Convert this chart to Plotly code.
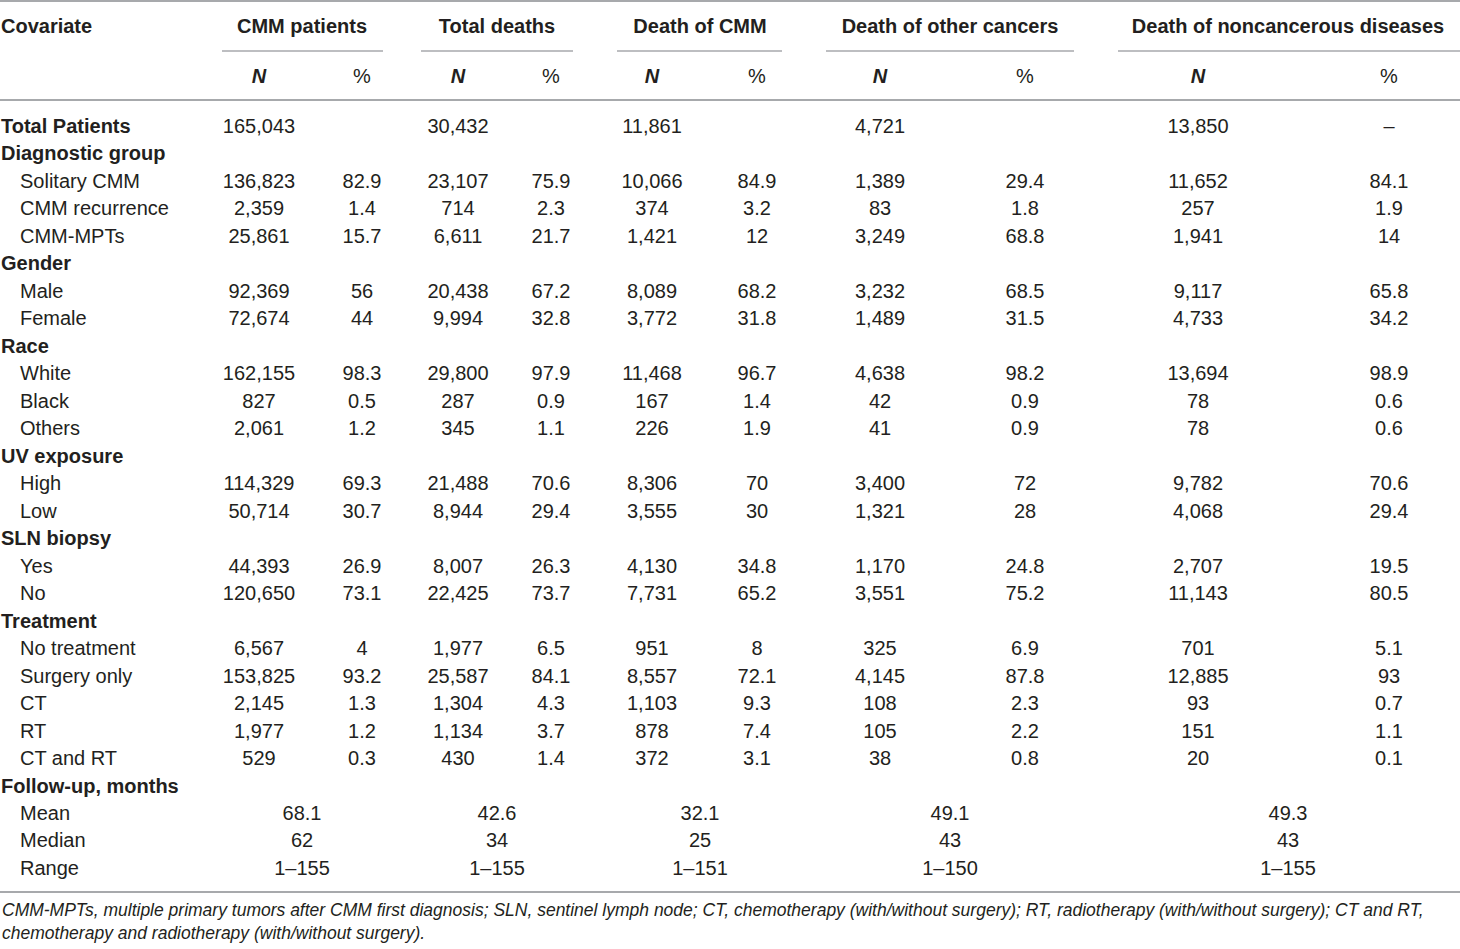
import plotly.graph_objects as go

# table content
row_labels = ["Total Patients", "Diagnostic group", "Solitary CMM", "CMM recurrence", "CMM-MPTs",
              "Gender", "Male", "Female", "Race", "White", "Black", "Others",
              "UV exposure", "High", "Low", "SLN biopsy", "Yes", "No",
              "Treatment", "No treatment", "Surgery only", "CT", "RT", "CT and RT",
              "Follow-up, months", "Mean", "Median", "Range"]
group_rows = ["Total Patients", "Diagnostic group", "Gender", "Race", "UV exposure",
              "SLN biopsy", "Treatment", "Follow-up, months"]

groups = ["CMM patients", "Total deaths", "Death of CMM", "Death of other cancers",
          "Death of noncancerous diseases"]

_ = None
cmm_n = [165043, _, 136823, 2359, 25861, _, 92369, 72674, _, 162155, 827, 2061, _,
         114329, 50714, _, 44393, 120650, _, 6567, 153825, 2145, 1977, 529]
cmm_pct = [_, _, 82.9, 1.4, 15.7, _, 56, 44, _, 98.3, 0.5, 1.2, _,
           69.3, 30.7, _, 26.9, 73.1, _, 4, 93.2, 1.3, 1.2, 0.3]
tot_n = [30432, _, 23107, 714, 6611, _, 20438, 9994, _, 29800, 287, 345, _,
         21488, 8944, _, 8007, 22425, _, 1977, 25587, 1304, 1134, 430]
tot_pct = [_, _, 75.9, 2.3, 21.7, _, 67.2, 32.8, _, 97.9, 0.9, 1.1, _,
           70.6, 29.4, _, 26.3, 73.7, _, 6.5, 84.1, 4.3, 3.7, 1.4]
dcmm_n = [11861, _, 10066, 374, 1421, _, 8089, 3772, _, 11468, 167, 226, _,
          8306, 3555, _, 4130, 7731, _, 951, 8557, 1103, 878, 372]
dcmm_pct = [_, _, 84.9, 3.2, 12, _, 68.2, 31.8, _, 96.7, 1.4, 1.9, _,
            70, 30, _, 34.8, 65.2, _, 8, 72.1, 9.3, 7.4, 3.1]
other_n = [4721, _, 1389, 83, 3249, _, 3232, 1489, _, 4638, 42, 41, _,
           3400, 1321, _, 1170, 3551, _, 325, 4145, 108, 105, 38]
other_pct = [_, _, 29.4, 1.8, 68.8, _, 68.5, 31.5, _, 98.2, 0.9, 0.9, _,
             72, 28, _, 24.8, 75.2, _, 6.9, 87.8, 2.3, 2.2, 0.8]
nonc_n = [13850, _, 11652, 257, 1941, _, 9117, 4733, _, 13694, 78, 78, _,
          9782, 4068, _, 2707, 11143, _, 701, 12885, 93, 151, 20]
nonc_pct = ["–", _, 84.1, 1.9, 14, _, 65.8, 34.2, _, 98.9, 0.6, 0.6, _,
            70.6, 29.4, _, 19.5, 80.5, _, 5.1, 93, 0.7, 1.1, 0.1]

fu_mean = [68.1, 42.6, 32.1, 49.1, 49.3]
fu_median = [62, 34, 25, 43, 43]
fu_range = ["1–155", "1–155", "1–151", "1–150", "1–155"]

footnote = ("CMM-MPTs, multiple primary tumors after CMM first diagnosis; SLN, sentinel lymph node; "
            "CT, chemotherapy (with/without surgery); RT, radiotherapy (with/without surgery); CT and RT,"
            "<br>chemotherapy and radiotherapy (with/without surgery).")

# layout constants (pixels)
W, H = 1460, 949
ROW0, ROW_H = 128, 27.48
HEAD_Y, SUB_Y = 28, 78
N_X = [259, 458, 652, 880, 1198]
P_X = [362, 551, 757, 1025, 1389]
G_X = [302, 497, 700, 950, 1288]
LINE_SPANS = [(222, 383), (421, 573), (617, 782), (826, 1074), (1118, 1460)]
FONT = "Liberation Sans, Arial, Helvetica, sans-serif"
INK = "#231f20"
RULE = "#a7a9ac"
SIZE = 20


def fmt(v):
    if v is None:
        return ""
    if isinstance(v, str):
        return v
    if isinstance(v, int):
        return f"{v:,}"
    return f"{v:g}"


def row_y(i):
    return ROW0 + i * ROW_H


def text_trace(x, y, text, pos="middle center", **font):
    return go.Scatter(x=x, y=y, text=text, mode="text", textposition=pos,
                      textfont=dict(family=FONT, size=SIZE, color=INK, **font),
                      hoverinfo="skip", cliponaxis=False)


fig = go.Figure()

# row labels
bold_idx = [i for i, r in enumerate(row_labels) if r in group_rows]
sub_idx = [i for i, r in enumerate(row_labels) if r not in group_rows]
fig.add_trace(text_trace([1] * len(bold_idx), [row_y(i) for i in bold_idx],
                         [row_labels[i] for i in bold_idx], "middle right", weight="bold"))
fig.add_trace(text_trace([20] * len(sub_idx), [row_y(i) for i in sub_idx],
                         [row_labels[i] for i in sub_idx], "middle right"))

# value columns
cols = [(cmm_n, cmm_pct), (tot_n, tot_pct), (dcmm_n, dcmm_pct),
        (other_n, other_pct), (nonc_n, nonc_pct)]
for g, (ns, ps) in enumerate(cols):
    for xs, vals in ((N_X[g], ns), (P_X[g], ps)):
        fig.add_trace(text_trace([xs] * len(vals), [row_y(i) for i in range(len(vals))],
                                 [fmt(v) for v in vals]))

# follow-up rows, centred under each group
fu_start = row_labels.index("Mean")
for k, vals in enumerate((fu_mean, fu_median, fu_range)):
    fig.add_trace(text_trace(G_X, [row_y(fu_start + k)] * len(G_X), [fmt(v) for v in vals]))

# header
fig.add_trace(text_trace([1], [HEAD_Y], ["Covariate"], "middle right", weight="bold"))
fig.add_trace(text_trace(G_X, [HEAD_Y] * len(G_X), groups, weight="bold"))
fig.add_trace(text_trace(N_X, [SUB_Y] * len(N_X), ["N"] * len(N_X), weight="bold", style="italic"))
fig.add_trace(text_trace(P_X, [SUB_Y] * len(P_X), ["%"] * len(P_X)))

# rules
shapes = []
for y in (1, 100, 892):
    shapes.append(dict(type="line", xref="x", yref="y", x0=0, x1=W, y0=y, y1=y,
                       line=dict(color=RULE, width=2)))
for x0, x1 in LINE_SPANS:
    shapes.append(dict(type="line", xref="x", yref="y", x0=x0, x1=x1, y0=51, y1=51,
                       line=dict(color=RULE, width=1.5)))

fig.add_annotation(x=0, y=921, xref="x", yref="y", text=footnote, showarrow=False,
                   xanchor="left", yanchor="middle", align="left",
                   font=dict(family=FONT, size=17.5, color=INK, style="italic"))

fig.update_layout(
    width=W, height=H, margin=dict(l=0, r=0, t=0, b=0),
    plot_bgcolor="white", paper_bgcolor="white", showlegend=False,
    shapes=shapes,
    xaxis=dict(range=[0, W], visible=False, fixedrange=True),
    yaxis=dict(range=[H, 0], visible=False, fixedrange=True),
)

# drop the page's default body margin so the table sits at the window origin
fig.write_html("out.html", config={"displayModeBar": False},
               post_script="document.body.style.margin='0';")
